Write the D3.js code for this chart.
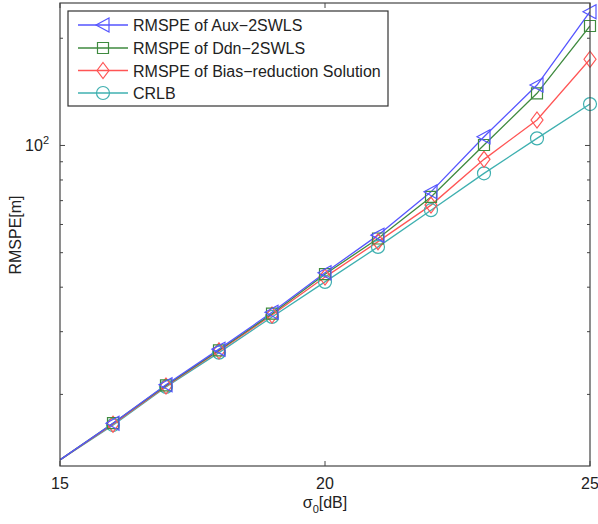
<!DOCTYPE html>
<html><head><meta charset="utf-8">
<script src="https://cdn.jsdelivr.net/npm/d3@7"></script>
<style>body{margin:0;background:#fff}svg{display:block}text{font-family:"Liberation Sans",Arial,sans-serif;fill:#222}</style>
</head><body><svg id="c" width="598" height="524"></svg>
<script>
const xs = [15,16,17,18,19,20,21,22,23,24,25];
const aux  = [13.1,16.6,21.3,26.8,34.0,43.9,56.0,74.1,105.8,147.8,237.5];
const ddn  = [13.1,16.6,21.2,26.6,33.7,43.5,54.8,71.7,100.3,140.1,216.5];
const bias = [13.1,16.5,21.1,26.5,33.4,42.7,53.7,68.0,91.4,117.9,174.6];
const crlb = [13.1,16.4,21.0,26.2,33.0,41.4,51.9,65.8,83.5,104.7,130.7];
const seriesNames = ["RMSPE of Aux\u22122SWLS","RMSPE of Ddn\u22122SWLS","RMSPE of Bias\u2212reduction Solution","CRLB"];
const seriesColors = ["#5555ff","#3f8a3f","#ff5555","#3fb0b0"];
const markers = ["triangle","square","diamond","circle"];
const xTicks = [15,20,25];
const yMinor = [20,30,40,50,60,70,80,90,200];

const svg = d3.select("#c");
const L=60,R=590,T=3,B=466;
const x = d3.scaleLinear().domain([15,25]).range([L,R]);
const y = d3.scaleLog().domain([Math.pow(10,1.1),Math.pow(10,2.4)]).range([B,T]);

const data = [aux,ddn,bias,crlb];

svg.append("defs").append("clipPath").attr("id","clip").append("rect").attr("x",L).attr("y",T).attr("width",R-L).attr("height",B-T);

const g = svg.append("g").attr("stroke","#444").attr("stroke-width",1);
xTicks.forEach(t=>{
  g.append("line").attr("x1",x(t)).attr("x2",x(t)).attr("y1",B).attr("y2",B-5);
  g.append("line").attr("x1",x(t)).attr("x2",x(t)).attr("y1",T).attr("y2",T+5);
});
[100].forEach(t=>{
  g.append("line").attr("x1",L).attr("x2",L+5).attr("y1",y(t)).attr("y2",y(t));
  g.append("line").attr("x1",R).attr("x2",R-5).attr("y1",y(t)).attr("y2",y(t));
});
yMinor.forEach(t=>{
  g.append("line").attr("x1",L).attr("x2",L+3).attr("y1",y(t)).attr("y2",y(t));
  g.append("line").attr("x1",R).attr("x2",R-3).attr("y1",y(t)).attr("y2",y(t));
});

function drawMarker(sel, type, cx, cy, color){
  const s = sel.append("path").attr("fill","none").attr("stroke",color).attr("stroke-width",1.2);
  let p;
  if(type==="triangle"){ p=`M${cx-7},${cy}L${cx+6},${cy-7}L${cx+6},${cy+7}Z`; }
  else if(type==="square"){ p=`M${cx-5.5},${cy-5.5}h11v11h-11Z`; }
  else if(type==="diamond"){ p=`M${cx},${cy-8}L${cx+6},${cy}L${cx},${cy+8}L${cx-6},${cy}Z`; }
  else { p=d3.path(); p.arc(cx,cy,6.5,0,2*Math.PI); p=p.toString(); }
  s.attr("d",p);
}

const line = d3.line().x((d,i)=>x(xs[i])).y(d=>y(d));
const plot = svg.append("g").attr("clip-path","url(#clip)");
[3,2,1,0].forEach(k=>{
  plot.append("path").datum(data[k]).attr("d",line).attr("fill","none").attr("stroke",seriesColors[k]).attr("stroke-width",1.3);
});
const mk = svg.append("g");
[3,2,1,0].forEach(k=>{
  data[k].forEach((v,i)=>{ if(i>0) drawMarker(mk,markers[k],x(xs[i]),y(v),seriesColors[k]); });
});

svg.append("rect").attr("x",L).attr("y",T).attr("width",R-L).attr("height",B-T).attr("fill","none").attr("stroke","#444").attr("stroke-width",1.2);

xTicks.forEach(t=>{
  svg.append("text").attr("x",x(t)).attr("y",489).attr("text-anchor","middle").attr("font-size",16).text(t);
});
const yl = svg.append("text").attr("x",49).attr("y",y(100)+6).attr("text-anchor","end").attr("font-size",16);
yl.append("tspan").text("10");
yl.append("tspan").attr("dy",-7).attr("font-size",11).text("2");

const xl = svg.append("text").attr("x",325).attr("y",508).attr("text-anchor","middle").attr("font-size",16);
xl.append("tspan").text("\u03c3");
xl.append("tspan").attr("dy",5).attr("font-size",11).text("0");
xl.append("tspan").attr("dy",-5).text("[dB]");
svg.append("text").attr("transform","translate(21,235) rotate(-90)").attr("text-anchor","middle").attr("font-size",16).text("RMSPE[m]");

const lg = svg.append("g");
lg.append("rect").attr("x",68).attr("y",11).attr("width",320).attr("height",95).attr("fill","#fff").attr("stroke","#333").attr("stroke-width",1.2);
const ly=[25,48,70.5,93];
seriesNames.forEach((n,k)=>{
  lg.append("line").attr("x1",78).attr("x2",128).attr("y1",ly[k]).attr("y2",ly[k]).attr("stroke",seriesColors[k]).attr("stroke-width",1.3);
  drawMarker(lg,markers[k],103,ly[k],seriesColors[k]);
  lg.append("text").attr("x",133).attr("y",ly[k]+6).attr("font-size",16).text(n);
});
</script></body></html>
